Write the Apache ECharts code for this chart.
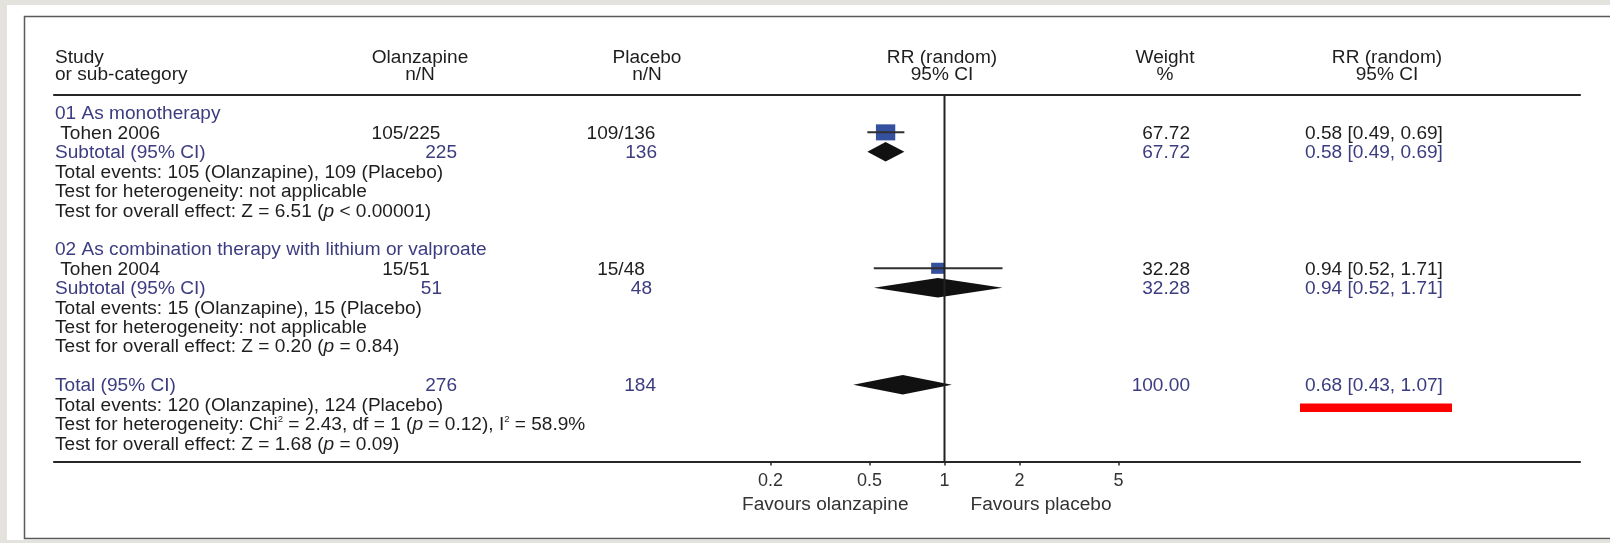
<!DOCTYPE html>
<html><head><meta charset="utf-8">
<script src="https://cdn.jsdelivr.net/npm/echarts@6/dist/echarts.min.js"></script>
<style>html,body{margin:0;padding:0;background:#e4e2dc;overflow:hidden}#c{width:1610px;height:543px}</style>
</head><body><div id="c"></div>
<script>
// ---------------- data ----------------
const groupTitles = ['01 As monotherapy', '02 As combination therapy with lithium or valproate'];
const studyNames = ['Tohen 2006', 'Tohen 2004'];
const olzEvents = [105, 15];
const olzTotals = [225, 51];
const plcEvents = [109, 15];
const plcTotals = [136, 48];
const studyRR = [0.58, 0.94];
const studyLow = [0.49, 0.52];
const studyHigh = [0.69, 1.71];
const studyWeight = [67.72, 32.28];
const subRR = [0.58, 0.94];
const subLow = [0.49, 0.52];
const subHigh = [0.69, 1.71];
const subWeight = [67.72, 32.28];
const groupZ = ['6.51', '0.20'];
const groupP = ['< 0.00001', '= 0.84'];
const totalOlzN = 276, totalPlcN = 184;
const totalOlzEvents = 120, totalPlcEvents = 124;
const totalRR = 0.68, totalLow = 0.43, totalHigh = 1.07, totalWeight = 100.00;
const totalChi2 = '2.43', totalDf = '1', totalHetP = '0.12', totalI2 = '58.9';
const totalZ = '1.68', totalP = '0.09';
const tickValues = [0.2, 0.5, 1, 2, 5];
const nullEffect = 1;

// ---------------- layout ----------------
const W = 1610, H = 543;
const FONT = "'Liberation Sans', Arial, Helvetica, sans-serif";
const FS = 18, SX = 1.06, TY = 1.5;
const BLACK = '#1e1e1e', BLUE = '#3c3c80';
const gridLeft = 54, gridRight = 1580, gridTop = 94.5, gridBottom = 461.5;
const xOne = 944.5, pxPerDecade = 249;
const xMin = Math.pow(10, (gridLeft - xOne) / pxPerDecade);
const xMax = Math.pow(10, (gridRight - xOne) / pxPerDecade);
const yMin = -0.95, yMax = 17.95;

// rows (line index)
const groupRow = g => g * 7;
const studyRow = g => g * 7 + 1;
const subRow = g => g * 7 + 2;
const totalRow = 14;

const chart = echarts.init(document.getElementById('c'), null, {renderer: 'canvas', width: W, height: H});

const studyData = studyRR.map((v, i) => [v, studyRow(i), studyLow[i], studyHigh[i], studyWeight[i]]);
const diamondData = subRR.map((v, i) => [v, subRow(i), subLow[i], subHigh[i]]);
diamondData.push([totalRR, totalRow, totalLow, totalHigh]);

const logAxis = (pos, showTicks) => ({
  type: 'log', logBase: 10, position: pos, min: xMin, max: xMax,
  gridIndex: 0,
  splitLine: {show: false},
  axisLine: {show: true, onZero: false, lineStyle: {color: '#262626', width: 2.2}},
  axisTick: showTicks ? {show: true, customValues: tickValues, length: 4, lineStyle: {color: '#2a2a2a', width: 1.5}} : {show: false},
  axisLabel: showTicks ? {show: true, customValues: tickValues, margin: 11, color: '#333', fontSize: 18, fontFamily: FONT,
    formatter: v => String(+(+v).toPrecision(3))} : {show: false},
  minorTick: {show: false}, minorSplitLine: {show: false}
});

chart.setOption({
  animation: false,
  backgroundColor: '#e4e2dc',
  grid: {left: gridLeft, right: W - gridRight, top: gridTop, bottom: H - gridBottom, containLabel: false},
  xAxis: [logAxis('bottom', true), logAxis('top', false)],
  yAxis: {type: 'value', inverse: true, min: yMin, max: yMax, show: false},
  series: [
    {
      type: 'custom', name: 'studies', data: studyData, z: 3,
      encode: {x: 0, y: 1},
      renderItem(params, api) {
        const row = api.value(1);
        const c = api.coord([api.value(0), row]);
        const lo = api.coord([api.value(2), row]);
        const hi = api.coord([api.value(3), row]);
        const s = Math.sqrt(api.value(4));
        const w = s * 2.35, h = s * 1.95;
        return {type: 'group', children: [
          {type: 'rect', shape: {x: c[0] - w / 2, y: c[1] - h / 2, width: w, height: h}, style: {fill: '#34509f'}},
          {type: 'line', shape: {x1: lo[0], y1: c[1], x2: hi[0], y2: c[1]}, style: {stroke: '#2f2f2f', lineWidth: 2}}
        ]};
      }
    },
    {
      type: 'custom', name: 'pooled', data: diamondData, z: 3,
      encode: {x: 0, y: 1},
      renderItem(params, api) {
        const row = api.value(1);
        const c = api.coord([api.value(0), row]);
        const lo = api.coord([api.value(2), row]);
        const hi = api.coord([api.value(3), row]);
        const h = 9.8;
        return {type: 'polygon', shape: {points: [[lo[0], c[1]], [c[0], c[1] - h], [hi[0], c[1]], [c[0], c[1] + h]]},
          style: {fill: '#111'}};
      }
    },
    {
      type: 'line', name: 'null', data: [[nullEffect, yMin], [nullEffect, yMax]], z: 5,
      symbol: 'none', lineStyle: {color: '#222', width: 2}, silent: true
    }
  ]
});

const py = r => chart.convertToPixel({yAxisIndex: 0}, r);
const px = v => chart.convertToPixel({xAxisIndex: 0}, v);

const rich = {
  i: {fontStyle: 'italic', fontSize: FS, fontFamily: FONT, lineHeight: 20},
  sup: {fontSize: 9, fontFamily: FONT, lineHeight: 20, verticalAlign: 'top'}
};
function txt(text, x, row, color, align) {
  const r = {};
  for (const k in rich) r[k] = Object.assign({fill: color}, rich[k]);
  return {
    type: 'text', x: x, y: py(row) + TY, scaleX: SX, z: 10,
    style: {text: text, fill: color, fontSize: FS, fontFamily: FONT, lineHeight: 20,
      align: align || 'left', verticalAlign: 'middle', rich: r}
  };
}

const els = [];
// page
els.push({type: 'rect', z: -10, shape: {x: 7, y: 5, width: W - 7, height: 535}, style: {fill: '#fff'}});
els.push({type: 'rect', z: -9, shape: {x: 24.5, y: 16.5, width: W, height: 522}, style: {fill: 'none', stroke: '#5a5a5a', lineWidth: 1.5}});

// header
const colStudy = 55, colOlz = 420, colPlc = 647, colPlot = 942, colW = 1165, colRR = 1387;
const hr1 = -2.92, hr2 = -2.05;
els.push(txt('Study', colStudy, hr1, BLACK));
els.push(txt('or sub-category', colStudy, hr2, BLACK));
els.push(txt('Olanzapine', colOlz, hr1, BLACK, 'center'));
els.push(txt('n/N', colOlz, hr2, BLACK, 'center'));
els.push(txt('Placebo', colPlc, hr1, BLACK, 'center'));
els.push(txt('n/N', colPlc, hr2, BLACK, 'center'));
els.push(txt('RR (random)', colPlot, hr1, BLACK, 'center'));
els.push(txt('95% CI', colPlot, hr2, BLACK, 'center'));
els.push(txt('Weight', colW, hr1, BLACK, 'center'));
els.push(txt('%', colW, hr2, BLACK, 'center'));
els.push(txt('RR (random)', colRR, hr1, BLACK, 'center'));
els.push(txt('95% CI', colRR, hr2, BLACK, 'center'));

const f2 = v => v.toFixed(2);
const ciText = (r, l, h) => `${f2(r)} [${f2(l)}, ${f2(h)}]`;
const olzSubRight = [457, 442], plcSubRight = [657, 652];
const xStudyOlz = 406, xStudyPlc = 621, xWRight = 1190, xRRLeft = 1305;

for (let g = 0; g < 2; g++) {
  els.push(txt(groupTitles[g], colStudy, groupRow(g), BLUE));
  els.push(txt(' ' + studyNames[g], colStudy, studyRow(g), BLACK));
  els.push(txt(`${olzEvents[g]}/${olzTotals[g]}`, xStudyOlz, studyRow(g), BLACK, 'center'));
  els.push(txt(`${plcEvents[g]}/${plcTotals[g]}`, xStudyPlc, studyRow(g), BLACK, 'center'));
  els.push(txt(f2(studyWeight[g]), xWRight, studyRow(g), BLACK, 'right'));
  els.push(txt(ciText(studyRR[g], studyLow[g], studyHigh[g]), xRRLeft, studyRow(g), BLACK));
  els.push(txt('Subtotal (95% CI)', colStudy, subRow(g), BLUE));
  els.push(txt(String(olzTotals[g]), olzSubRight[g], subRow(g), BLUE, 'right'));
  els.push(txt(String(plcTotals[g]), plcSubRight[g], subRow(g), BLUE, 'right'));
  els.push(txt(f2(subWeight[g]), xWRight, subRow(g), BLUE, 'right'));
  els.push(txt(ciText(subRR[g], subLow[g], subHigh[g]), xRRLeft, subRow(g), BLUE));
  els.push(txt(`Total events: ${olzEvents[g]} (Olanzapine), ${plcEvents[g]} (Placebo)`, colStudy, subRow(g) + 1, BLACK));
  els.push(txt('Test for heterogeneity: not applicable', colStudy, subRow(g) + 2, BLACK));
  els.push(txt(`Test for overall effect: Z = ${groupZ[g]} ({i|p} ${groupP[g]})`, colStudy, subRow(g) + 3, BLACK));
}
els.push(txt('Total (95% CI)', colStudy, totalRow, BLUE));
els.push(txt(String(totalOlzN), 457, totalRow, BLUE, 'right'));
els.push(txt(String(totalPlcN), 656, totalRow, BLUE, 'right'));
els.push(txt(totalWeight.toFixed(2), xWRight, totalRow, BLUE, 'right'));
els.push(txt(ciText(totalRR, totalLow, totalHigh), xRRLeft, totalRow, BLUE));
els.push(txt(`Total events: ${totalOlzEvents} (Olanzapine), ${totalPlcEvents} (Placebo)`, colStudy, totalRow + 1, BLACK));
els.push(txt(`Test for heterogeneity: Chi{sup|2} = ${totalChi2}, df = ${totalDf} ({i|p} = ${totalHetP}), I{sup|2} = ${totalI2}%`, colStudy, totalRow + 2, BLACK));
els.push(txt(`Test for overall effect: Z = ${totalZ} ({i|p} = ${totalP})`, colStudy, totalRow + 3, BLACK));

// favours labels
els.push(txt('Favours olanzapine', px(nullEffect) - 36, 20.12, '#333', 'right'));
els.push(txt('Favours placebo', px(nullEffect) + 26, 20.12, '#333', 'left'));

// red highlight under total estimate
els.push({type: 'rect', z: 10, shape: {x: 1300, y: 403.5, width: 152, height: 8.5}, style: {fill: '#ff0000'}});

chart.setOption({graphic: {elements: els}});
</script></body></html>
